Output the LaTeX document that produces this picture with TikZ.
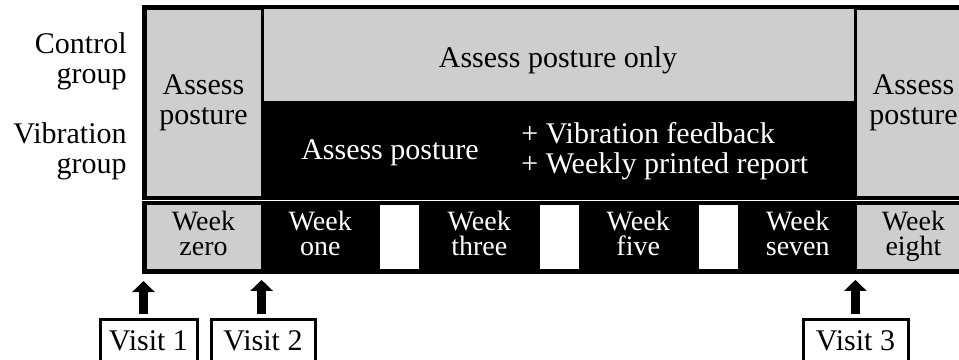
\documentclass[tikz,border=0pt]{standalone}
\usepackage{fontspec}
\setmainfont{Liberation Serif}
\usepackage{xcolor}
\usepackage{tikz}
\usetikzlibrary{arrows.meta, positioning, calc}

\definecolor{cellgrey}{RGB}{207,206,204}

\begin{document}
\begin{tikzpicture}[x=0.5pt, y=-0.5pt,
    % Node styles
    greycell/.style={rectangle, fill=cellgrey, draw=black, line width=1.5pt, inner sep=0pt, align=center, font=\fontsize{15}{15}\selectfont},
    blackcell/.style={rectangle, fill=black, draw=black, inner sep=0pt, text=white, align=center},
    weekgrey/.style={greycell, minimum height=33.5pt, font=\fontsize{14}{12.5}\selectfont},
    weekblack/.style={blackcell, minimum height=33.5pt, font=\fontsize{14}{12.5}\selectfont},
    gapcell/.style={rectangle, fill=white, draw=black, line width=1.5pt, inner sep=0pt, minimum width=21pt, minimum height=33.5pt},
    plaintext/.style={inner sep=0pt, font=\fontsize{15}{15}\selectfont},
    grouplabel/.style={plaintext, align=right, anchor=east},
    visitbox/.style={rectangle, draw=black, fill=white, line width=1.5pt, inner sep=0pt, minimum height=21.5pt, font=\fontsize{15}{15}\selectfont},
    arrow/.style={-{Triangle[width=11pt, length=5.5pt]}, line width=4.7pt, shorten <=1.75pt, shorten >=4.5pt}
]
\useasboundingbox (0,0) rectangle (959,359);

% Group labels (left side)
\node[grouplabel] (control) at (127,61) {Control\\group};
\node[grouplabel] (vibration) at (127,151) {Vibration\\group};

% Study plan
\node[blackcell, minimum width=296.5pt, minimum height=48pt] (vib) at (558.5,149) {};
\node[greycell, line width=0.4pt, minimum width=296.5pt, minimum height=46.5pt] (ctrl) at (558.5,54.5) {};
\node[greycell, minimum width=58.5pt, minimum height=94.5pt] (pre) at (203.5,102.5) {Assess\\posture};
\node[greycell, minimum width=58.5pt, minimum height=94.5pt] (post) at (913.5,102.5) {Assess\\posture};
\draw[line width=1.5pt] (pre.north west) rectangle (post.south east);

\node[plaintext] (ctrltext) at (558,60) {Assess posture only};
\node[plaintext, text=white] (vibtext) at (390,153) {Assess posture};
\node[plaintext, text=white, align=left, anchor=west] (extras) at (521,151) {+ Vibration feedback\\+ Weekly printed report};

% Weeks
\node[weekgrey, minimum width=58.5pt] (wk0) at (203.5,237) {Week\\zero\strut};
\node[weekblack, minimum width=58.25pt] (wk1) at (320.25,237) {Week\\one\strut};
\node[gapcell] (gap1) at (399.5,237) {};
\node[weekblack, minimum width=58.75pt] (wk3) at (479.25,237) {Week\\three\strut};
\node[gapcell] (gap2) at (559,237) {};
\node[weekblack, minimum width=58.25pt] (wk5) at (638.25,237) {Week\\five\strut};
\node[gapcell] (gap3) at (718.5,237) {};
\node[weekblack, minimum width=57.25pt] (wk7) at (797.75,237) {Week\\seven\strut};
\node[weekgrey, minimum width=58.5pt] (wk8) at (913.5,237) {Week\\eight\strut};
\draw[line width=1.5pt] (wk0.north west) rectangle (wk8.south east);

% Visits
\node[visitbox, minimum width=48.5pt] (visit1) at (148.5,340.5) {Visit 1};
\node[visitbox, minimum width=52pt] (visit2) at (263,340.5) {Visit 2};
\node[visitbox, minimum width=52.5pt] (visit3) at (855.5,340.5) {Visit 3};

% Arrows
\draw[arrow] (wk0.south west |- visit1.north) -- (wk0.south west);
\draw[arrow] (wk1.south west |- visit2.north) -- (wk1.south west);
\draw[arrow] (wk7.south east |- visit3.north) -- (wk7.south east);

\end{tikzpicture}
\end{document}
